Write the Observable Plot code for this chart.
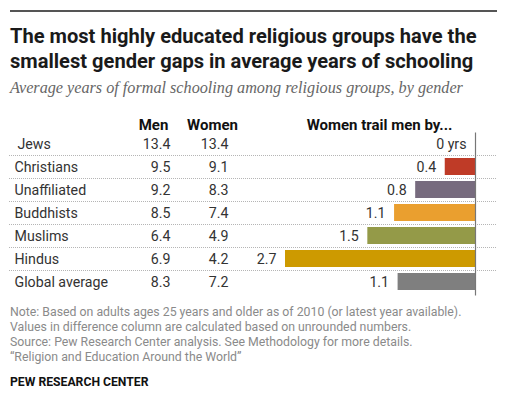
<!DOCTYPE html>
<html>
<head>
<meta charset="utf-8">
<script src="https://cdn.jsdelivr.net/npm/d3@7"></script>
<script src="https://cdn.jsdelivr.net/npm/@observablehq/plot@0.6"></script>
<style>
  body { margin: 0; background: #fff; width: 505px; height: 397px; overflow: hidden; position: relative; font-family: Roboto, "Liberation Sans", sans-serif; }
  .rule { position: absolute; left: 10px; top: 10px; width: 487px; height: 2px; background: #555; }
  .title { position: absolute; left: 10px; top: 23.5px; font-size: 20.1px; font-weight: bold; line-height: 25px; color: #1a1a1a; white-space: nowrap; }
  .subtitle { position: absolute; left: 10px; top: 80px; font-family: "Liberation Serif", serif; font-style: italic; font-size: 16.2px; line-height: 16px; color: #666; white-space: nowrap; }
  #chart { position: absolute; left: 0; top: 108px; }
  .note { position: absolute; left: 10px; top: 304.5px; font-size: 12.3px; line-height: 15.3px; color: #8a8a8a; white-space: nowrap; }
  .source { position: absolute; left: 10px; top: 375px; font-size: 12.2px; line-height: 14px; font-weight: bold; color: #111; white-space: nowrap; }
</style>
</head>
<body>
<div class="rule"></div>
<div class="title">The most highly educated religious groups have the<br>smallest gender gaps in average years of schooling</div>
<div class="subtitle">Average years of formal schooling among religious groups, by gender</div>
<div id="chart"></div>
<div class="note">Note: Based on adults ages 25 years and older as of 2010 (or latest year available).<br>Values in difference column are calculated based on unrounded numbers.<br>Source: Pew Research Center analysis. See Methodology for more details.<br>“Religion and Education Around the World”</div>
<div class="source">PEW RESEARCH CENTER</div>
<script>
const groups = ["Jews", "Christians", "Unaffiliated", "Buddhists", "Muslims", "Hindus", "Global average"];
const men = [13.4, 9.5, 9.2, 8.5, 6.4, 6.9, 8.3];
const women = [13.4, 9.1, 8.3, 7.4, 4.9, 4.2, 7.2];
const gap = [0, 0.43, 0.85, 1.15, 1.53, 2.7, 1.1];
const gapLabels = ["0 yrs", "0.4", "0.8", "1.1", "1.5", "2.7", "1.1"];
const colors = ["#4d6f96", "#bf3b27", "#776b7e", "#ea9f2f", "#949a48", "#cd9a00", "#7f7f7f"];
const headers = ["Men", "Women", "Women trail men by..."];

const rows = groups.map((g, i) => ({group: g, men: men[i], women: women[i], gap: gap[i], label: gapLabels[i]}));

const hdr = {frameAnchor: "top-left", dy: -6.5, lineAnchor: "middle", textAnchor: "middle", fontWeight: "bold", fill: "#111", fontSize: 15};

const chart = Plot.plot({
  width: 505,
  height: 192,
  marginTop: 23.5,
  marginBottom: 7.5,
  marginLeft: 0,
  marginRight: 0,
  x: {domain: [2.7, 0], range: [285, 475], axis: null},
  y: {domain: groups, padding: 0, axis: null},
  color: {domain: groups, range: colors},
  style: {fontFamily: "Roboto, 'Liberation Sans', sans-serif", fontSize: "14.2px", color: "#333", background: "#fff"},
  marks: [
    Plot.ruleY(rows.slice(0, -1), {y: "group", dy: 11.5, insetLeft: 9, insetRight: 8, stroke: "#b5b5b5", strokeDasharray: "1,1"}),
    Plot.barX(rows, {x: "gap", y: "group", fill: "group", insetTop: 3, insetBottom: 3}),
    Plot.ruleX(rows.filter(d => d.gap === 0), {x: "gap", y: "group", stroke: "#4d6f96", insetTop: 3, insetBottom: 3, strokeWidth: 1.5}),
    Plot.ruleX([0], {stroke: "#777", strokeWidth: 1.2, insetTop: 1, insetBottom: -3}),
    Plot.text(rows.slice(0, 1), {y: "group", text: "group", frameAnchor: "left", dx: 17, textAnchor: "start", fill: "#333"}),
    Plot.text(rows.slice(1), {y: "group", text: "group", frameAnchor: "left", dx: 14, textAnchor: "start", fill: "#333"}),
    Plot.text(rows, {y: "group", text: d => d.men.toFixed(1), frameAnchor: "left", dx: 170, textAnchor: "end", fill: "#333"}),
    Plot.text(rows, {y: "group", text: d => d.women.toFixed(1), frameAnchor: "left", dx: 228, textAnchor: "end", fill: "#333"}),
    Plot.text(rows, {x: "gap", y: "group", text: "label", textAnchor: "end", dx: -9, fill: "#333"}),
    Plot.text([headers[0]], {...hdr, dx: 153}),
    Plot.text([headers[1]], {...hdr, dx: 212}),
    Plot.text([headers[2]], {...hdr, dx: 379})
  ]
});
document.getElementById("chart").appendChild(chart);
</script>
</body>
</html>
